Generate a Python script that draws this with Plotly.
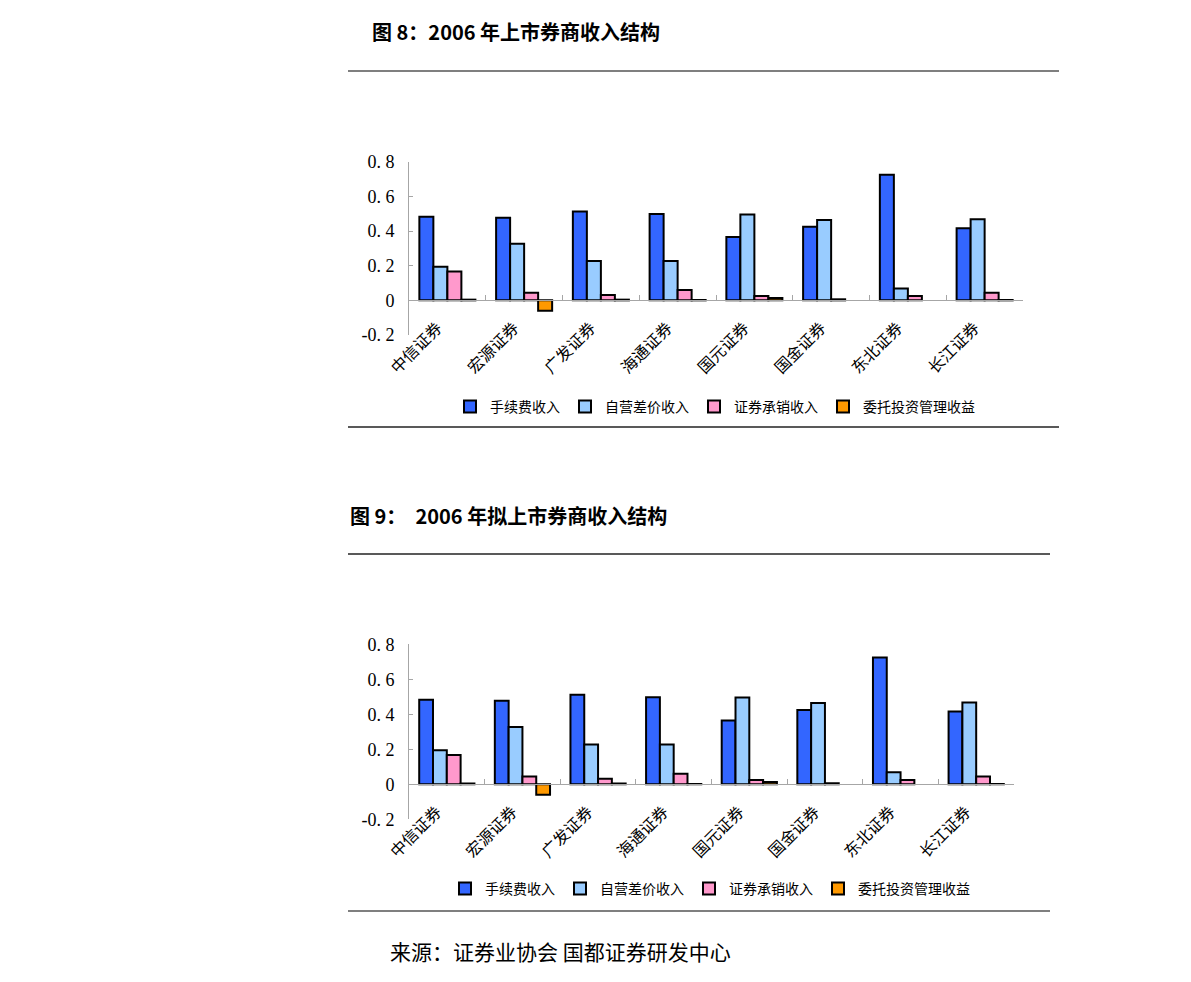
import plotly.graph_objects as go

# 券商名称
categories = ["中信证券", "宏源证券", "广发证券", "海通证券",
              "国元证券", "国金证券", "东北证券", "长江证券"]
# 收入结构（占比）
fee_income = [0.483, 0.477, 0.512, 0.498, 0.365, 0.425, 0.725, 0.416]
trading_income = [0.194, 0.327, 0.227, 0.227, 0.496, 0.464, 0.069, 0.468]
underwriting_income = [0.167, 0.044, 0.031, 0.060, 0.025, 0.006, 0.025, 0.044]
asset_mgmt_income = [0.004, -0.060, 0.004, 0.002, 0.013, None, None, 0.002]

series_names = ["手续费收入", "自营差价收入", "证券承销收入", "委托投资管理收益"]
series_values = [fee_income, trading_income, underwriting_income, asset_mgmt_income]
series_colors = ["#3366FF", "#99CCFF", "#FF99CC", "#FF9900"]

y_tickvals = [-0.2, 0, 0.2, 0.4, 0.6, 0.8]
y_ticktext = ["-0. 2", "0", "0. 2", "0. 4", "0. 6", "0. 8"]

W, H = 1191, 982
OFF = 8  # 页面 body 默认边距
CJK = "Noto Sans CJK SC"
SERIF = "Liberation Serif"


def fx(p):
    return (p - OFF) / W


def fy(p):
    return 1 - (p - OFF) / H


# 两个图的像素位置: (左, 右, 顶(0.8), 底(-0.2), 图例中心x, 图例y)
panels = [
    dict(x0=409, x1=1023, ytop=161.7, ybot=335.0, lx=715, ly=407),
    dict(x0=409, x1=1014, ytop=644.3, ybot=819.3, lx=710, ly=889),
]

fig = go.Figure()
layout = dict(
    width=W, height=H,
    margin=dict(l=0, r=0, t=0, b=0, autoexpand=False),
    paper_bgcolor="white", plot_bgcolor="white",
    barmode="group", bargap=0.27, bargroupgap=0,
    showlegend=True,
)

for i, p in enumerate(panels):
    sfx = "" if i == 0 else str(i + 1)
    xd = [fx(p["x0"]), fx(p["x1"])]
    yd = [fy(p["ybot"]), fy(p["ytop"])]
    zero_pos = yd[0] + (0 - y_tickvals[0]) / (y_tickvals[-1] - y_tickvals[0]) * (yd[1] - yd[0])
    for name, vals, col in zip(series_names, series_values, series_colors):
        fig.add_trace(go.Bar(
            x=categories, y=vals, name=name,
            marker=dict(color=col, line=dict(color="black", width=2)),
            xaxis="x" + sfx, yaxis="y" + sfx,
            legend="legend" + sfx,
        ))
    layout["xaxis" + sfx] = dict(
        domain=xd, anchor="free", position=zero_pos,
        type="category", tickson="boundaries",
        ticks="inside", ticklen=5, tickcolor="#A6A6A6",
        showline=True, linecolor="#A6A6A6", linewidth=1,
        showgrid=False, zeroline=False, automargin=False,
        tickangle=-45, ticklabelstandoff=11, ticklabelshift=-10,
        tickfont=dict(family=CJK, size=16, color="black"),
    )
    layout["yaxis" + sfx] = dict(
        domain=yd, anchor="x" + sfx,
        range=[y_tickvals[0], y_tickvals[-1]],
        tickmode="array", tickvals=y_tickvals, ticktext=y_ticktext,
        ticks="inside", ticklen=4, tickcolor="#A6A6A6",
        showline=True, linecolor="#A6A6A6", linewidth=1,
        showgrid=False, zeroline=False, automargin=False,
        ticklabelstandoff=10,
        tickfont=dict(family=SERIF, size=18, color="black"),
    )
    layout["legend" + sfx] = dict(
        orientation="h", x=fx(p["lx"]), y=fy(p["ly"]),
        xanchor="center", yanchor="middle",
        font=dict(family=CJK, size=14, color="black"),
        itemwidth=30, bgcolor="rgba(0,0,0,0)",
    )

# 标题、分隔线、来源
annotations = [
    dict(text="<b>图 8：2006 年上市券商收入结构</b>", x=fx(370), y=fy(32), size=20),
    dict(text="<b>图 9：  2006 年拟上市券商收入结构</b>", x=fx(348), y=fy(515), size=20),
    dict(text="来源：证券业协会 国都证券研发中心", x=fx(388), y=fy(951), size=21),
]
layout["annotations"] = [
    dict(text=a["text"], x=a["x"], y=a["y"], xref="paper", yref="paper",
         xanchor="left", yanchor="middle", showarrow=False,
         font=dict(family=CJK, size=a["size"], color="black"))
    for a in annotations
]

rules = [(348, 1059, 71, "#555555"), (348, 1059, 427, "#222222"),
         (348, 1050, 554, "#222222"), (348, 1050, 911, "#555555")]
layout["shapes"] = [
    dict(type="line", xref="paper", yref="paper",
         x0=fx(a), x1=fx(b), y0=fy(y), y1=fy(y),
         line=dict(color=c, width=1.5))
    for a, b, y, c in rules
]

fig.update_layout(**layout)
fig.write_html("out.html")
